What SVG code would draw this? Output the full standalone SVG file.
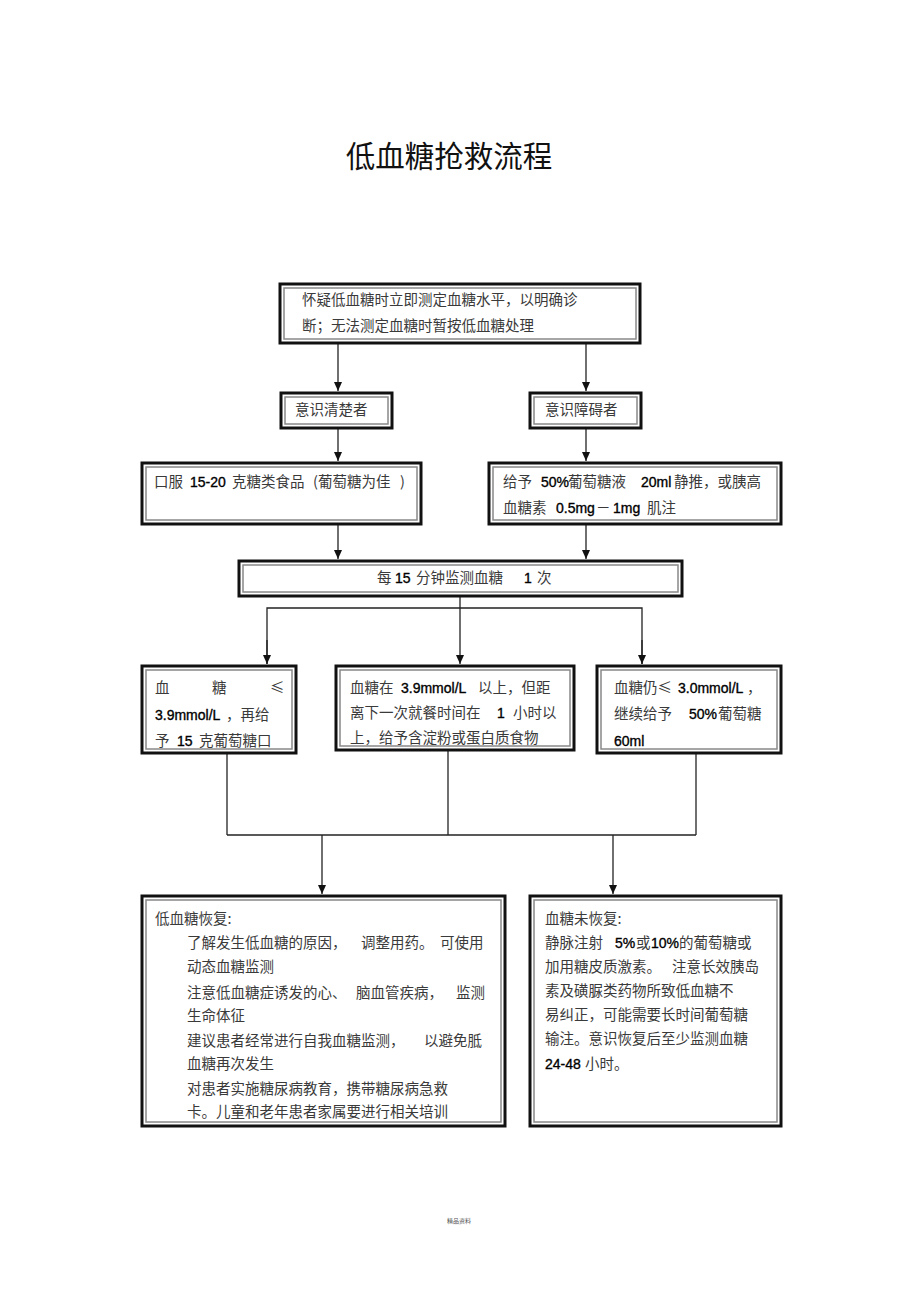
<svg xmlns="http://www.w3.org/2000/svg" width="920" height="1303" viewBox="0 0 920 1303">
<style>
.o{fill:#fff;stroke:#111;stroke-width:3}
.i{fill:none;stroke:#888;stroke-width:1.5}
.t{font-family:"Noto Sans CJK SC","Liberation Sans",sans-serif;font-size:14.5px;fill:#3a3a3a;white-space:pre}
.b{font-family:"Liberation Sans",sans-serif;font-size:14px;fill:#000;stroke:#000;stroke-width:0.35}
.ln{fill:none;stroke:#222;stroke-width:1.3}
.title{font-family:"Noto Sans CJK SC",sans-serif;font-size:29.5px;fill:#111}
</style>
<defs>
<marker id="ah" markerWidth="10" markerHeight="10" refX="9" refY="5" orient="auto" markerUnits="userSpaceOnUse">
<path d="M0,1 L9,5 L0,9 Z" fill="#111"/>
</marker>
</defs>
<rect width="920" height="1303" fill="#fff"/>
<text class="title" x="449" y="167" text-anchor="middle">低血糖抢救流程</text>

<g id="connectors">
<line class="ln" x1="338" y1="344" x2="338" y2="391" marker-end="url(#ah)"/>
<line class="ln" x1="586" y1="344" x2="586" y2="391" marker-end="url(#ah)"/>
<line class="ln" x1="338" y1="429" x2="338" y2="461" marker-end="url(#ah)"/>
<line class="ln" x1="586" y1="429" x2="586" y2="461" marker-end="url(#ah)"/>
<line class="ln" x1="338" y1="525" x2="338" y2="559" marker-end="url(#ah)"/>
<line class="ln" x1="586" y1="525" x2="586" y2="559" marker-end="url(#ah)"/>
<line class="ln" x1="460" y1="597" x2="460" y2="664" marker-end="url(#ah)"/>
<polyline class="ln" points="267,664 267,608 642,608 642,664"/>
<line class="ln" x1="267" y1="640" x2="267" y2="664" marker-end="url(#ah)"/>
<line class="ln" x1="642" y1="640" x2="642" y2="664" marker-end="url(#ah)"/>
<line class="ln" x1="227" y1="754" x2="227" y2="835"/>
<line class="ln" x1="448" y1="751" x2="448" y2="835"/>
<line class="ln" x1="696" y1="754" x2="696" y2="835"/>
<line class="ln" x1="227" y1="835" x2="696" y2="835"/>
<line class="ln" x1="322" y1="835" x2="322" y2="894" marker-end="url(#ah)"/>
<line class="ln" x1="613" y1="835" x2="613" y2="894" marker-end="url(#ah)"/>
</g>

<g id="n1">
<rect class="o" x="280" y="284" width="360" height="59"/>
<rect class="i" x="284" y="288" width="352" height="51"/>
<text class="t" x="302" y="305">怀疑低血糖时立即测定血糖水平，以明确诊</text>
<text class="t" x="302" y="331">断；无法测定血糖时暂按低血糖处理</text>
</g>
<g id="n2">
<rect class="o" x="281" y="393" width="111" height="35"/>
<rect class="i" x="285" y="397" width="103" height="27"/>
<text class="t" x="295" y="415">意识清楚者</text>
</g>
<g id="n3">
<rect class="o" x="530" y="393" width="111" height="35"/>
<rect class="i" x="534" y="397" width="103" height="27"/>
<text class="t" x="545" y="415">意识障碍者</text>
</g>
<g id="n4">
<rect class="o" x="142" y="463" width="279" height="61"/>
<rect class="i" x="146" y="467" width="271" height="53"/>
<text class="t" x="154" y="487">口服<tspan class="b" x="190">15-20</tspan><tspan x="232">克糖类食品</tspan><tspan x="313">(葡萄糖为佳</tspan><tspan x="400">)</tspan></text>
</g>
<g id="n5">
<rect class="o" x="489" y="463" width="292" height="61"/>
<rect class="i" x="493" y="467" width="284" height="53"/>
<text class="t" x="503" y="487">给予<tspan class="b" x="541">50%</tspan><tspan x="568">葡萄糖液</tspan><tspan class="b" x="641">20ml</tspan><tspan x="674">静推，或胰高</tspan></text>
<text class="t" x="503" y="513">血糖素<tspan class="b" x="556">0.5mg</tspan><tspan x="596">－</tspan><tspan class="b" x="613">1mg</tspan><tspan x="647">肌注</tspan></text>
</g>
<g id="n6">
<rect class="o" x="239" y="561" width="443" height="35"/>
<rect class="i" x="243" y="565" width="435" height="27"/>
<text class="t" x="377" y="583">每<tspan class="b" x="395">15</tspan><tspan x="416">分钟监测血糖</tspan><tspan class="b" x="524">1</tspan><tspan x="537">次</tspan></text>
</g>
<g id="n7">
<rect class="o" x="142" y="666" width="154" height="87"/>
<rect class="i" x="146" y="670" width="146" height="79"/>
<text class="t" x="155" y="693">血</text>
<text class="t" x="212" y="693">糖</text>
<text class="t" x="270" y="693">≤</text>
<text class="t" x="155" y="720"><tspan class="b">3.9mmol/L</tspan><tspan x="226">，再给</tspan></text>
<text class="t" x="155" y="746">予<tspan class="b" x="177">15</tspan><tspan x="199">克葡萄糖口</tspan></text>
</g>
<g id="n8">
<rect class="o" x="336" y="666" width="238" height="84"/>
<rect class="i" x="340" y="670" width="230" height="76"/>
<text class="t" x="350" y="693">血糖在<tspan class="b" x="401">3.9mmol/L</tspan><tspan x="478">以上，但距</tspan></text>
<text class="t" x="350" y="718">离下一次就餐时间在<tspan class="b" x="497">1</tspan><tspan x="513">小时以</tspan></text>
<text class="t" x="350" y="743">上，给予含淀粉或蛋白质食物</text>
</g>
<g id="n9">
<rect class="o" x="597" y="666" width="184" height="87"/>
<rect class="i" x="601" y="670" width="176" height="79"/>
<text class="t" x="614" y="693">血糖仍≤<tspan class="b" x="678">3.0mmol/L</tspan><tspan x="747">，</tspan></text>
<text class="t" x="614" y="719">继续给予<tspan class="b" x="689">50%</tspan><tspan x="718">葡萄糖</tspan></text>
<text class="t" x="614" y="746"><tspan class="b">60ml</tspan></text>
</g>
<g id="n10">
<rect class="o" x="142" y="896" width="363" height="230"/>
<rect class="i" x="146" y="900" width="355" height="222"/>
<text class="t" x="155" y="924">低血糖恢复:</text>
<text class="t" x="187" y="948">了解发生低血糖的原因，<tspan x="361">调整用药。</tspan><tspan x="440">可使用</tspan></text>
<text class="t" x="187" y="972">动态血糖监测</text>
<text class="t" x="187" y="998">注意低血糖症诱发的心、<tspan x="356">脑血管疾病，</tspan><tspan x="456">监测</tspan></text>
<text class="t" x="187" y="1021">生命体征</text>
<text class="t" x="187" y="1046">建议患者经常进行自我血糖监测，<tspan x="424">以避免胝</tspan></text>
<text class="t" x="187" y="1069">血糖再次发生</text>
<text class="t" x="187" y="1094">对患者实施糖尿病教育，携带糖尿病急救</text>
<text class="t" x="187" y="1117">卡。儿童和老年患者家属要进行相关培训</text>
</g>
<g id="n11">
<rect class="o" x="530" y="896" width="251" height="230"/>
<rect class="i" x="534" y="900" width="243" height="222"/>
<text class="t" x="545" y="924">血糖未恢复:</text>
<text class="t" x="545" y="948">静脉注射<tspan class="b" x="615">5%</tspan><tspan x="636">或</tspan><tspan class="b" x="651">10%</tspan><tspan x="679">的葡萄糖或</tspan></text>
<text class="t" x="545" y="972">加用糖皮质激素。<tspan x="672">注意长效胰岛</tspan></text>
<text class="t" x="545" y="996">素及磺脲类药物所致低血糖不</text>
<text class="t" x="545" y="1020">易纠正，可能需要长时间葡萄糖</text>
<text class="t" x="545" y="1044">输注。意识恢复后至少监测血糖</text>
<text class="t" x="545" y="1069"><tspan class="b">24-48</tspan><tspan x="585">小时。</tspan></text>
</g>
<text x="459" y="1223" text-anchor="middle" style="font-family:'Noto Sans CJK SC',sans-serif;font-size:6px;fill:#555">精品资料</text>
</svg>
